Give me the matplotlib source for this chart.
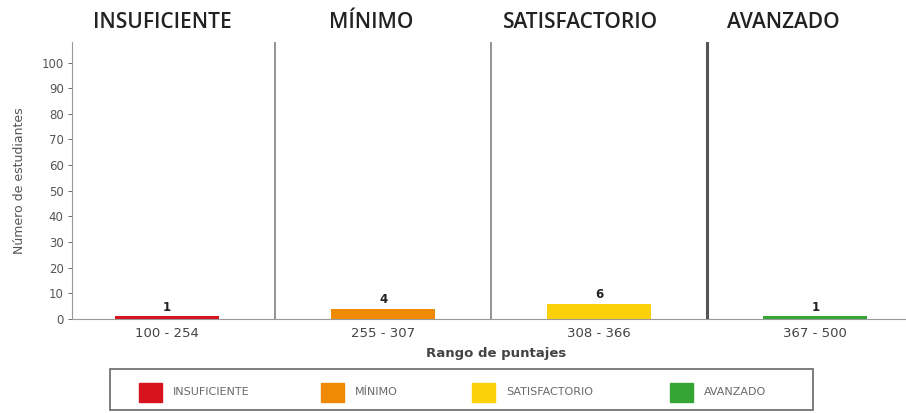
import matplotlib.pyplot as plt
from matplotlib.patches import Rectangle

# Data
niveles = ["INSUFICIENTE", "MÍNIMO", "SATISFACTORIO", "AVANZADO"]
rangos = ["100 - 254", "255 - 307", "308 - 366", "367 - 500"]
estudiantes = [1, 4, 6, 1]
colores = ["#D7141E", "#EF8A05", "#FDD10A", "#35A634"]

plt.rcParams['font.family'] = ['Open Sans', 'DejaVu Sans']

W, H = 906, 413
fig = plt.figure(figsize=(W / 100, H / 100), dpi=100)
ax = fig.add_axes([72 / W, 1 - 319 / H, 834 / W, 277 / H])

x = list(range(len(niveles)))
ax.bar(x, estudiantes, width=0.48, color=colores, zorder=2)
for xi, v in zip(x, estudiantes):
    ax.text(xi, v + 3.6, str(v), ha='center', va='center', fontsize=8.5,
            fontweight='bold', color='#222222', family='DejaVu Sans')

ax.set_xlim(-0.44, 3.42)
ax.set_ylim(0, 108)
ax.set_yticks(range(0, 101, 10))
ax.tick_params(axis='y', labelsize=8.5, colors='#555555', length=3, width=0.6, pad=3)
ax.tick_params(axis='x', labelsize=9.5, colors='#444444', length=0, pad=6)
for lbl in ax.get_yticklabels():
    lbl.set_family('DejaVu Sans')
ax.set_xticks(x)
ax.set_xticklabels(rangos, family='DejaVu Sans')
ax.set_ylabel("Número de estudiantes", fontsize=9, color='#555555',
              family='DejaVu Sans')
ax.yaxis.set_label_coords(-0.055, 0.5)
ax.set_xlabel("Rango de puntajes", fontsize=9.5, fontweight='bold',
              color='#444444', family='DejaVu Sans')
ax.xaxis.set_label_coords(0.508, -0.1)

for s in ['top', 'right']:
    ax.spines[s].set_visible(False)
ax.spines['left'].set_color('#999999')
ax.spines['bottom'].set_color('#999999')

# separators between levels
sep_styles = [('#8a8a8a', 1.3), ('#8a8a8a', 1.3), ('#555555', 2.2)]
for i, (c, lw) in enumerate(sep_styles):
    ax.axvline(i + 0.5, color=c, lw=lw, zorder=1)

# level titles
title_pos = [-0.023, 0.947, 1.914, 2.85]
for tx, name in zip(title_pos, niveles):
    ax.text(tx, 1.069, name, transform=ax.get_xaxis_transform(), ha='center',
            va='center', fontsize=15, fontweight='semibold', color='#222222')

# legend box drawn by hand
fig.patches.append(Rectangle((110 / W, 1 - 410 / H), 703 / W, 41 / H,
                             transform=fig.transFigure, fill=False,
                             edgecolor='#666666', lw=1.2))
patch_x = [139, 321, 472, 670]
for px, c, n in zip(patch_x, colores, niveles):
    fig.patches.append(Rectangle((px / W, 1 - 402 / H), 23 / W, 19 / H,
                                 transform=fig.transFigure, color=c))
    fig.text((px + 34) / W, 1 - 392 / H, n, ha='left', va='center',
             fontsize=8, color='#6a6a6a', family='DejaVu Sans')

fig.savefig("out.png", dpi=100)
